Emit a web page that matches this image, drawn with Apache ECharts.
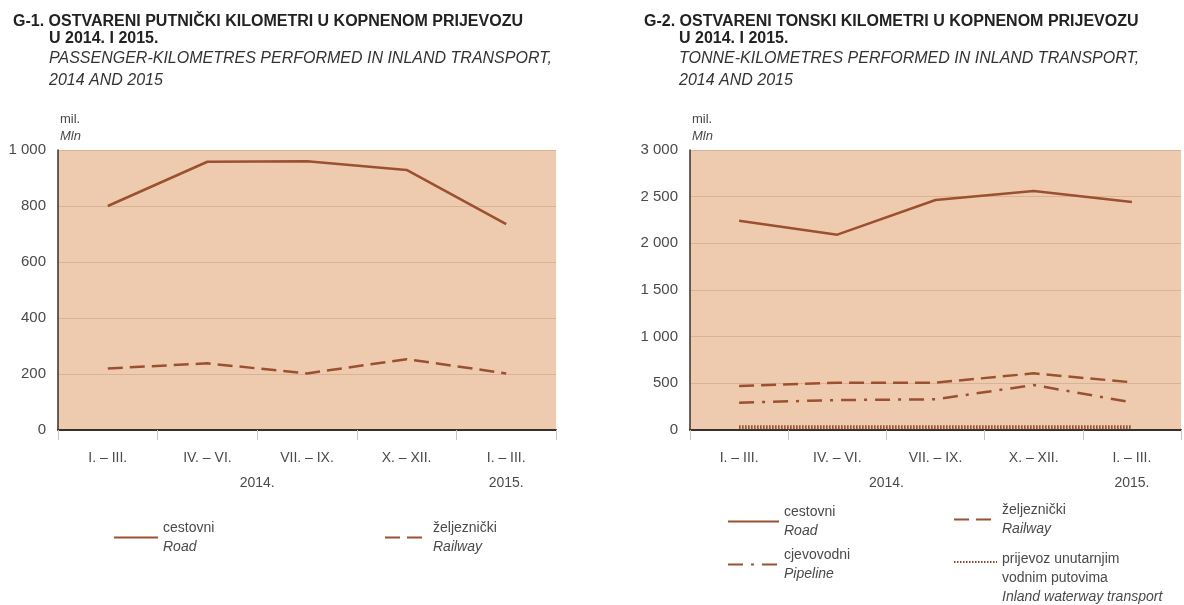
<!DOCTYPE html>
<html><head><meta charset="utf-8">
<script src="https://cdn.jsdelivr.net/npm/echarts@6/dist/echarts.min.js"></script>
<style>html,body{margin:0;padding:0;background:#fff}#c{width:1184px;height:605px}</style>
</head><body><div id="c"></div>
<script>
const categories = ['I. – III.', 'IV. – VI.', 'VII. – IX.', 'X. – XII.', 'I. – III.'];
const years = ['2014.', '2015.'];
const passengerRoad = [800, 958, 960, 929, 735];
const passengerRail = [220, 238, 202, 253, 202];
const tonneRoad = [2242, 2093, 2464, 2561, 2443];
const tonneRail = [471, 507, 507, 607, 511];
const tonnePipeline = [293, 321, 329, 482, 296];
const tonneWaterway = [30, 30, 30, 30, 30];
const passengerTicks = [0, 200, 400, 600, 800, 1000];
const tonneTicks = [0, 500, 1000, 1500, 2000, 2500, 3000];

const FONT = "'Liberation Sans', Arial, sans-serif";
const LINE = '#9B5030';
const AXIS = '#3b2f2a';
const TXT = '#4a4a4a';

// year labels: 2014. centred over the first four quarters, 2015. under the fifth
const yearSlots = ['', '', '', '', years[0], '', '', '', '', years[1], ''];

const legendText = {
  Road1: [['a', 'cestovni'], ['b', 'Road']],
  Rail1: [['a', 'željeznički'], ['b', 'Railway']],
  Road2: [['a', 'cestovni'], ['b', 'Road']],
  Rail2: [['a', 'željeznički'], ['b', 'Railway']],
  Pipe2: [['a', 'cjevovodni'], ['b', 'Pipeline']],
  Water2: [['a', 'prijevoz unutarnjim'], ['a', 'vodnim putovima'], ['b', 'Inland waterway transport']]
};

function fmtNum(v) { return String(v).replace(/\B(?=(\d{3})+(?!\d))/g, ' '); }

const rich = {
  a: { fontFamily: FONT, fontSize: 14, color: TXT, lineHeight: 19 },
  b: { fontFamily: FONT, fontSize: 14, color: TXT, lineHeight: 19, fontStyle: 'italic' }
};

function legend(name, left, top, width, pad) {
  return {
    data: [name], left: left, top: top, orient: 'vertical', padding: 0,
    itemWidth: width, itemHeight: 14, itemGap: 0,
    selectedMode: false,
    itemStyle: { opacity: 0, borderWidth: 0 },
    formatter: n => legendText[n].map(p => '{' + p[0] + '|' + p[1] + '}').join('\n'),
    textStyle: { fontFamily: FONT, fontSize: 14, color: TXT, rich: rich, padding: pad || 0 }
  };
}

function xCat(gi) {
  return {
    type: 'category', gridIndex: gi, data: categories, boundaryGap: true,
    axisLine: { lineStyle: { color: AXIS, width: 2 } },
    axisTick: { show: true, length: 10, lineStyle: { color: '#c8c8c8', width: 1 } },
    axisLabel: { fontFamily: FONT, fontSize: 14, color: TXT, margin: 21, interval: 0 },
    splitLine: { show: false }
  };
}
function xYear(gi) {
  return {
    type: 'category', gridIndex: gi, data: yearSlots, boundaryGap: false, position: 'bottom',
    axisLine: { show: false }, axisTick: { show: false },
    axisLabel: { fontFamily: FONT, fontSize: 14, color: TXT, margin: 46, interval: 0 },
    splitLine: { show: false }
  };
}
function yVal(gi, ticks) {
  return {
    type: 'value', gridIndex: gi, min: ticks[0], max: ticks[ticks.length - 1], interval: ticks[1] - ticks[0],
    name: '{a|mil.}\n{b|Mln}', nameLocation: 'end', nameGap: 5,
    nameTextStyle: { align: 'left', verticalAlign: 'bottom', padding: [0, 0, 0, 2],
      rich: { a: { fontFamily: FONT, fontSize: 13, color: TXT, lineHeight: 17 },
              b: { fontFamily: FONT, fontSize: 13, color: TXT, lineHeight: 17, fontStyle: 'italic' } } },
    axisLine: { show: true, lineStyle: { color: AXIS, width: 1.5 } },
    axisTick: { show: false },
    axisLabel: { fontFamily: FONT, fontSize: 15, color: TXT, margin: 12, formatter: fmtNum },
    splitLine: { show: true, lineStyle: { color: '#d9b395', width: 1 } }
  };
}
function line(name, xi, yi, data, type, width, color) {
  return {
    name: name, type: 'line', xAxisIndex: xi, yAxisIndex: yi, data: data,
    symbol: 'none', silent: true, animation: false,
    lineStyle: { color: color || LINE, width: width || 2.5, type: type || 'solid', cap: 'butt' },
    itemStyle: { color: color || LINE }
  };
}

const chart = echarts.init(document.getElementById('c'), null, { renderer: 'canvas' });
chart.setOption({
  backgroundColor: '#ffffff',
  animation: false,
  title: [
    { text: 'G-1. OSTVARENI PUTNIČKI KILOMETRI U KOPNENOM PRIJEVOZU', left: 13, top: 13, padding: 0,
      textStyle: { fontFamily: FONT, fontSize: 16, fontWeight: 'bold', color: '#222', lineHeight: 17 } },
    { text: 'U 2014. I 2015.', left: 49, top: 30, padding: 0,
      textStyle: { fontFamily: FONT, fontSize: 16, fontWeight: 'bold', color: '#222', lineHeight: 17 } },
    { text: 'PASSENGER-KILOMETRES PERFORMED IN INLAND TRANSPORT,\n2014 AND 2015', left: 49, top: 48, padding: 0,
      textStyle: { fontFamily: FONT, fontSize: 16, fontWeight: 'normal', fontStyle: 'italic', color: '#333', lineHeight: 22 } },
    { text: 'G-2. OSTVARENI TONSKI KILOMETRI U KOPNENOM PRIJEVOZU', left: 644, top: 13, padding: 0,
      textStyle: { fontFamily: FONT, fontSize: 16, fontWeight: 'bold', color: '#222', lineHeight: 17 } },
    { text: 'U 2014. I 2015.', left: 679, top: 30, padding: 0,
      textStyle: { fontFamily: FONT, fontSize: 16, fontWeight: 'bold', color: '#222', lineHeight: 17 } },
    { text: 'TONNE-KILOMETRES PERFORMED IN INLAND TRANSPORT,\n2014 AND 2015', left: 679, top: 48, padding: 0,
      textStyle: { fontFamily: FONT, fontSize: 16, fontWeight: 'normal', fontStyle: 'italic', color: '#333', lineHeight: 22 } }
  ],
  grid: [
    { left: 58, right: 628, top: 150, bottom: 175, show: true, backgroundColor: '#EECBAE', borderWidth: 0, containLabel: false },
    { left: 690, right: 0, top: 150, bottom: 175, show: true, backgroundColor: '#EECBAE', borderWidth: 0, containLabel: false }
  ],
  xAxis: [xCat(0), xYear(0), xCat(1), xYear(1)],
  yAxis: [yVal(0, passengerTicks), yVal(1, tonneTicks)],
  legend: [
    legend('Road1', 113, 521, 44),
    legend('Rail1', 384, 521, 43),
    legend('Road2', 727, 505, 51),
    legend('Rail2', 953, 503, 43),
    legend('Pipe2', 727, 548, 51),
    legend('Water2', 953, 552, 43, [32, 0, 0, 0])
  ],
  series: [
    line('Road1', 0, 0, passengerRoad, 'solid', 2.5),
    line('Rail1', 0, 0, passengerRail, [15, 7], 2.5),
    line('Road2', 2, 1, tonneRoad, 'solid', 2.5),
    line('Rail2', 2, 1, tonneRail, [15, 7], 2.5),
    line('Pipe2', 2, 1, tonnePipeline, [15, 8, 3, 8], 2.5),
    line('Water2', 2, 1, tonneWaterway, [1.5, 1.5], 4, '#8a4a2a')
  ]
});
</script></body></html>
